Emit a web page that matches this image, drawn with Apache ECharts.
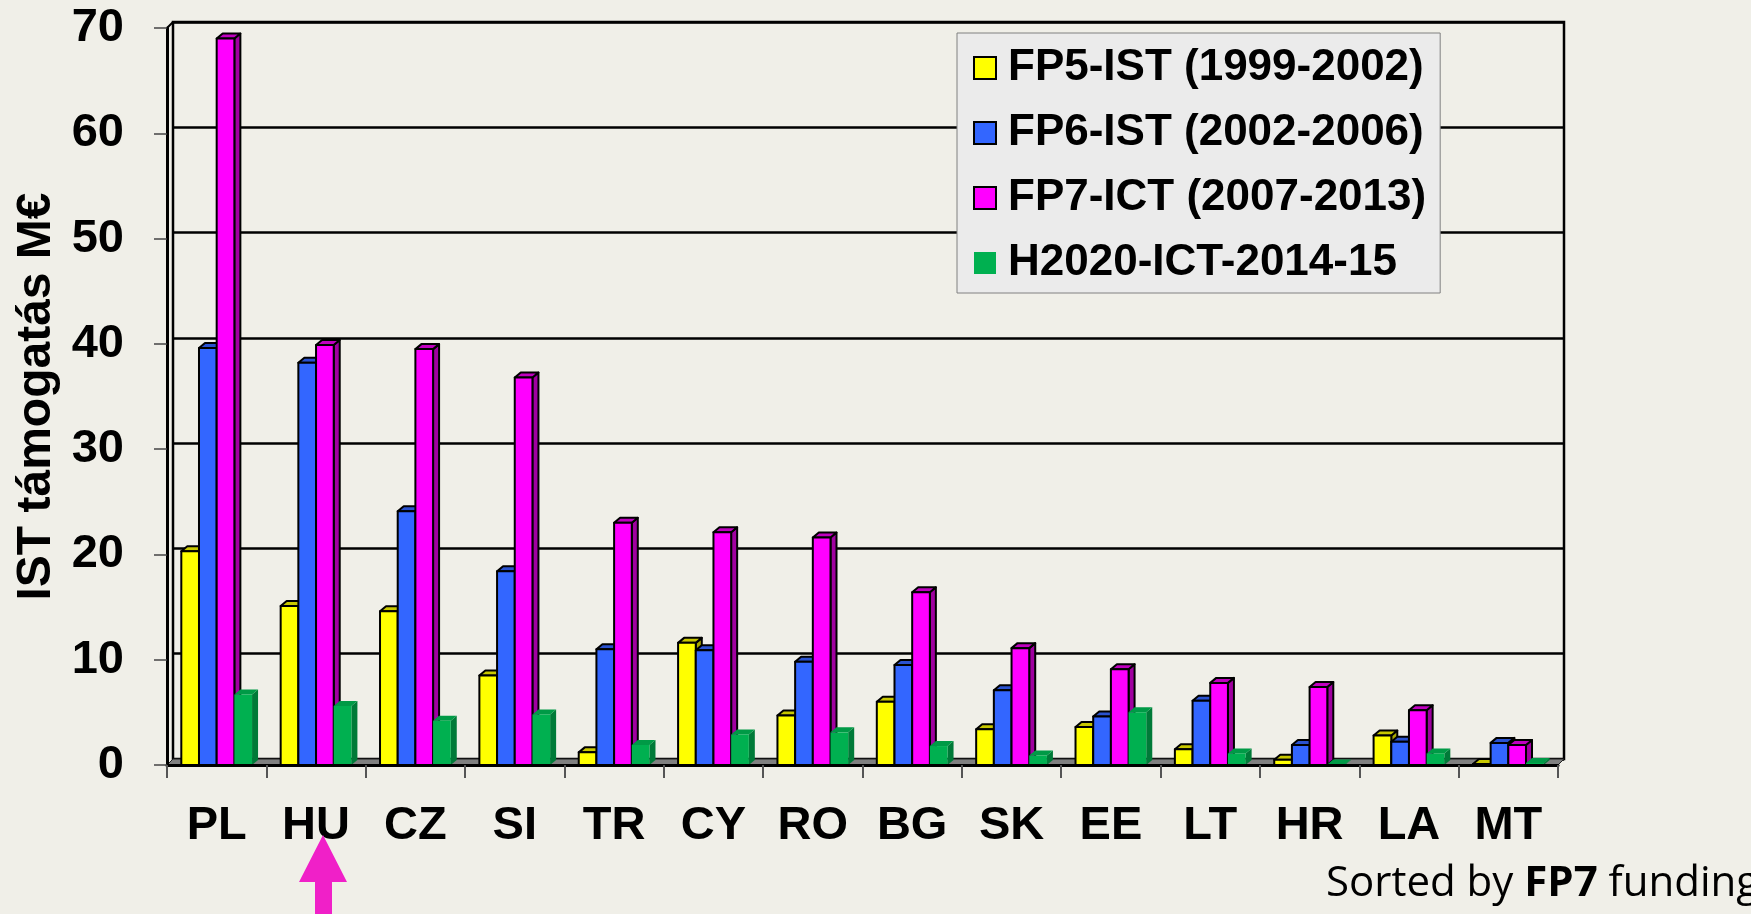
<!DOCTYPE html>
<html><head><meta charset="utf-8">
<script src="https://cdn.jsdelivr.net/npm/echarts@6/dist/echarts.min.js"></script>
<style>html,body{margin:0;padding:0;background:#F0EFE8;} #c{width:1751px;height:914px;}</style>
</head><body><div id="c"></div>
<script>
// ---- data ----
const categories = ['PL','HU','CZ','SI','TR','CY','RO','BG','SK','EE','LT','HR','LA','MT'];
const seriesNames = ['FP5-IST (1999-2002)','FP6-IST (2002-2006)','FP7-ICT (2007-2013)','H2020-ICT-2014-15'];
const fp5   = [20.3, 15.1, 14.6,  8.5,  1.2, 11.6,  4.7,  6.0,  3.4, 3.6, 1.5, 0.5, 2.8, 0.1];
const fp6   = [39.6, 38.2, 24.1, 18.4, 11.0, 10.9,  9.8,  9.5,  7.1, 4.6, 6.1, 1.9, 2.2, 2.1];
const fp7   = [69.0, 39.9, 39.5, 36.8, 23.0, 22.1, 21.6, 16.4, 11.1, 9.1, 7.8, 7.4, 5.2, 1.9];
const h2020 = [ 6.7,  5.6,  4.2,  4.8,  1.9,  2.9,  3.1,  1.8,  0.9, 5.0, 1.1, 0.05, 1.1, 0.2];
const yTicks = [0, 10, 20, 30, 40, 50, 60, 70];
const yTitle = 'IST támogatás M€';
const noteText = 'Sorted by {b|FP7} funding';

const allValues = [fp5, fp6, fp7, h2020];
const FONT = 'Liberation Sans';
const BAR_FRAC = 0.178, DX = 6, DY = 5;
const palettes = [
  {front:'#FFFF00', top:'#C8C800', side:'#A8A800', stroke:'#000'},
  {front:'#3366FF', top:'#2A52D0', side:'#2040B0', stroke:'#000'},
  {front:'#FF00FF', top:'#C000C0', side:'#A000A0', stroke:'#000'},
  {front:'#00B050', top:'#009A46', side:'#007A38', stroke:null}
];

function makeRender(si){
  return function(params, api){
    const ci = api.value(0), v = api.value(1);
    const b = api.coord([ci, 0]);
    const t = api.coord([ci, v]);
    const band = api.size([1, 0])[0];
    const bw = band * BAR_FRAC;
    const x0 = b[0] + (si - 2) * bw, x1 = x0 + bw;
    const yb = b[1], yt = t[1];
    const p = palettes[si];
    const st = p.stroke ? {stroke:p.stroke, lineWidth:2, lineJoin:'round'} : {stroke:null, lineWidth:0};
    return {type:'group', children:[
      {type:'polygon', shape:{points:[[x1,yt],[x1+DX,yt-DY],[x1+DX,yb-DY],[x1,yb]]}, style:Object.assign({fill:p.side}, st)},
      {type:'polygon', shape:{points:[[x0,yt],[x0+DX,yt-DY],[x1+DX,yt-DY],[x1,yt]]}, style:Object.assign({fill:p.top}, st)},
      {type:'rect', shape:{x:x0, y:yt, width:bw, height:yb-yt}, style:Object.assign({fill:p.front}, st)}
    ]};
  };
}

function floorRender(params, api){
  const cs = params.coordSys;
  const x = cs.x, y = cs.y, w = cs.width, h = cs.height;
  return {type:'group', children:[
    {type:'polygon', shape:{points:[[x,y+h],[x+w,y+h],[x+w+6,y+h-6],[x+6,y+h-6]]},
     style:{fill:'#808080', stroke:'#222', lineWidth:1}},
    {type:'line', shape:{x1:x, y1:y, x2:x+6, y2:y-6}, style:{stroke:'#000', lineWidth:2}}
  ]};
}

const chart = echarts.init(document.getElementById('c'));
const series = [{
  type:'custom', name:'floor', xAxisIndex:0, yAxisIndex:0, z:1, silent:true,
  data:[[0,0]], renderItem: floorRender
}];
allValues.forEach((vals, si) => {
  series.push({
    type:'custom', name: seriesNames[si], xAxisIndex:0, yAxisIndex:0, z:2,
    itemStyle:{color: palettes[si].front},
    encode:{x:0, y:1},
    data: vals.map((v, i) => [i, v]),
    renderItem: makeRender(si)
  });
});

chart.setOption({
  backgroundColor:'#F0EFE8',
  animation:false,
  grid:[
    {left:167, right:193, top:28, bottom:149},
    {left:173, right:187, top:22, bottom:155, show:true, borderColor:'#000', borderWidth:2.5, backgroundColor:'transparent'}
  ],
  xAxis:[
    {type:'category', gridIndex:0, data:categories, z:3,
     axisLine:{show:true, lineStyle:{color:'#000', width:3}},
     axisTick:{show:true, length:13, lineStyle:{color:'#555', width:2}},
     axisLabel:{fontFamily:FONT, fontWeight:'bold', fontSize:47, color:'#000', margin:38}},
    {type:'category', gridIndex:1, data:categories, show:false}
  ],
  yAxis:[
    {type:'value', gridIndex:0, min:0, max:70, interval:10, z:3,
     name:yTitle, nameLocation:'middle', nameGap:105, nameRotate:90,
     nameTextStyle:{fontFamily:FONT, fontWeight:'bold', fontSize:48, color:'#000'},
     axisLine:{show:true, lineStyle:{color:'#000', width:3}},
     axisTick:{show:true, length:13, lineStyle:{color:'#444', width:1.5}},
     splitLine:{show:false},
     axisLabel:{fontFamily:FONT, fontWeight:'bold', fontSize:47, color:'#000', margin:43,
       formatter: v => yTicks.includes(v) ? String(v) : ''}},
    {type:'value', gridIndex:1, min:0, max:70, interval:10,
     axisLine:{show:false}, axisTick:{show:false}, axisLabel:{show:false},
     splitLine:{show:true, lineStyle:{color:'#000', width:2.5}}}
  ],
  legend:{
    orient:'vertical', left:957, top:33,
    backgroundColor:'#EBEBEB', borderColor:'#808080', borderWidth:1,
    padding:[13,14,8,16], itemWidth:22, itemHeight:22, itemGap:21,
    textStyle:{fontFamily:FONT, fontWeight:'bold', fontSize:44, color:'#000', padding:[0,0,0,7]},
    data: seriesNames.map((n, i) => ({
      name:n, icon:'rect',
      itemStyle: i < 3 ? {color:palettes[i].front, borderColor:'#000', borderWidth:2}
                       : {color:palettes[i].front, borderWidth:0}
    }))
  },
  graphic:[
    {type:'polygon', z:10, shape:{points:[[323,835],[347,882],[332,882],[332,914],[315,914],[315,882],[299,882]]},
     style:{fill:'#F020C8'}},
    {type:'text', z:10, left:1326, top:863,
     style:{text:noteText, fontFamily:'Open Sans', fontSize:42, fill:'#000',
       rich:{b:{fontFamily:'Open Sans', fontSize:42, fontWeight:'bold', fill:'#000'}}}}
  ],
  series: series
});
</script>
</body></html>
